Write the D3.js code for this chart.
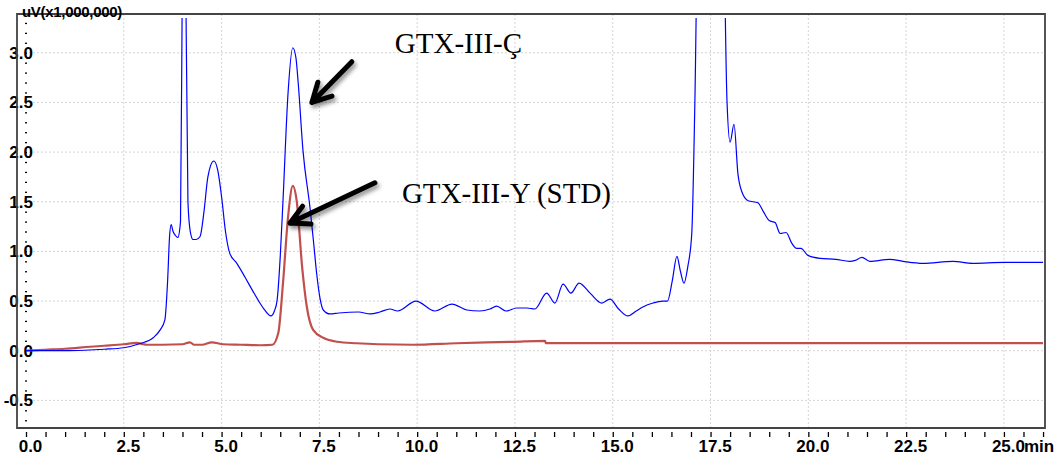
<!DOCTYPE html>
<html lang="en">
<head>
<meta charset="UTF-8">
<title>Chromatogram</title>
<script src="https://d3js.org/d3.v7.min.js"></script>
<style>
  body { margin: 0; background: #fff; }
  .axis text { font-family: "Liberation Sans", Arial, sans-serif; font-weight: bold; font-size: 17px; fill: #000; }
  .axis line { stroke: #000; }
  .axis path { display: none; }
</style>
</head>
<body>
<svg id="chart" width="1057" height="467"></svg>
<script>
// blue trace (sample)
var blueTime = [0, 0.5, 1, 1.5, 2, 2.5, 2.9, 3.25, 3.43, 3.55, 3.62, 3.67, 3.71, 3.76, 3.82, 3.88, 3.95,
    4.0, 4.04, 4.08, 4.14, 4.2, 4.27, 4.35, 4.45, 4.55, 4.65, 4.8, 4.9, 5.0, 5.1, 5.21, 5.39, 5.6, 5.8,
    5.98, 6.1, 6.26, 6.35, 6.42, 6.5, 6.57, 6.7, 6.82, 6.9, 6.96, 7.08, 7.26, 7.35, 7.43, 7.52, 7.6, 7.77,
    8.0, 8.5, 8.8, 9.05, 9.3, 9.5, 9.97, 10.45, 10.89, 11.27, 11.6, 11.86, 12.03, 12.27, 12.55, 12.8, 13.01,
    13.31, 13.52, 13.73, 13.93, 14.14, 14.42, 14.72, 14.93, 15.15, 15.39, 15.6, 15.77, 16.03, 16.28, 16.4,
    16.52, 16.64, 16.73, 16.82, 16.92, 17.02, 17.1, 17.2, 17.5, 17.8, 17.92, 18.0, 18.1, 18.2, 18.3, 18.46,
    18.71, 18.85, 19.0, 19.15, 19.28, 19.43, 19.58, 19.7, 19.81, 19.99, 20.3, 20.7, 21.06, 21.2, 21.37,
    21.57, 22.08, 22.42, 22.93, 23.7, 24.2, 25.0, 26.0];
var blueValue = [0, 0, 0, 0.005, 0.015, 0.03, 0.07, 0.13, 0.21, 0.31, 0.7, 1.15, 1.27, 1.2, 1.16, 1.14, 1.3,
    4.0, 6.0, 4.0, 1.5, 1.2, 1.12, 1.12, 1.15, 1.4, 1.75, 1.91, 1.82, 1.55, 1.2, 0.98, 0.88, 0.74, 0.6,
    0.48, 0.41, 0.35, 0.40, 0.51, 0.95, 1.51, 2.6, 3.05, 2.95, 2.69, 2.02, 1.44, 1.1, 0.78, 0.52, 0.41, 0.37,
    0.38, 0.39, 0.37, 0.39, 0.42, 0.40, 0.50, 0.40, 0.47, 0.41, 0.40, 0.42, 0.45, 0.40, 0.43, 0.43, 0.42,
    0.58, 0.48, 0.67, 0.58, 0.68, 0.58, 0.48, 0.52, 0.42, 0.35, 0.40, 0.44, 0.48, 0.50, 0.50,
    0.7, 0.95, 0.8, 0.68, 0.85, 1.18, 2.52, 5, 6, 5, 2.52, 2.1, 2.28, 1.78, 1.6, 1.51,
    1.49, 1.4, 1.31, 1.29, 1.18, 1.19, 1.08, 1.03, 1.03, 0.96, 0.93, 0.92, 0.90, 0.91, 0.94,
    0.90, 0.92, 0.90, 0.88, 0.90, 0.88, 0.89, 0.89];

// red trace (standard)
var redTime = [0, 0.5, 1, 1.64, 2, 2.5, 2.83, 3.0, 3.08, 3.5, 4.0, 4.19, 4.3, 4.5, 4.75, 5.04, 5.5, 6.0,
    6.3, 6.45, 6.57, 6.7, 6.82, 6.92, 7.06, 7.18, 7.34, 7.6, 7.95, 8.45, 9.0, 9.9, 11.0, 12.45, 13.27,
    13.29, 20.0, 26.0];
var redValue = [0, 0.01, 0.02, 0.04, 0.05, 0.065, 0.08, 0.065, 0.06, 0.06, 0.065, 0.085, 0.06, 0.06, 0.085,
    0.065, 0.06, 0.055, 0.06, 0.18, 0.68, 1.35, 1.66, 1.51, 0.84, 0.44, 0.21, 0.13, 0.09, 0.075, 0.065,
    0.06, 0.075, 0.09, 0.10, 0.077, 0.077, 0.077];

var xMajor = [0, 2.5, 5, 7.5, 10, 12.5, 15, 17.5, 20, 22.5, 25];
var yMajor = [-0.5, 0, 0.5, 1, 1.5, 2, 2.5, 3];
var unitLabel = 'uV(x1,000,000)';

// annotations: [label, text t, text v, tail t, tail v, tip t, tip v]
var notes = [
    ['GTX-III-Ç', 9.43, 3.0, 8.33, 2.91, 7.31, 2.50],
    ['GTX-III-Y (STD)', 9.61, 1.49, 8.92, 1.69, 6.75, 1.285]
];

var svg = d3.select('#chart');
var padL = 17, padR = 1045, padT = 14, padB = 428;

var x = d3.scaleLinear().domain([-0.23, 26.05]).range([padL, padR]);
var y = d3.scaleLinear().domain([-0.778, 3.39]).range([padB, padT]);

var defs = svg.append('defs');
defs.append('clipPath').attr('id', 'plotclip')
    .append('rect').attr('x', padL).attr('y', 18).attr('width', padR - padL).attr('height', padB - 18);
var f = defs.append('filter').attr('id', 'shadow').attr('x', '-20%').attr('y', '-20%').attr('width', '150%').attr('height', '150%');
f.append('feDropShadow').attr('dx', 2).attr('dy', 3).attr('stdDeviation', 2)
    .attr('flood-color', '#000').attr('flood-opacity', 0.45);

// grid
svg.append('g').selectAll('line').data(xMajor.filter(function (d) { return d > 0; }))
    .enter().append('line')
    .attr('x1', function (d) { return x(d); }).attr('x2', function (d) { return x(d); })
    .attr('y1', padT).attr('y2', padB)
    .attr('stroke', '#d4d4d4').attr('stroke-dasharray', '2,2');
svg.append('g').selectAll('line').data(yMajor)
    .enter().append('line')
    .attr('x1', x(0) + 3).attr('x2', padR)
    .attr('y1', function (d) { return y(d); }).attr('y2', function (d) { return y(d); })
    .attr('stroke', '#d4d4d4').attr('stroke-dasharray', '2,2');

// axes
var xAxis = d3.axisBottom(x)
    .tickValues(d3.range(0, 26.01, 0.5))
    .tickSize(5).tickPadding(3)
    .tickFormat(function (d) { return xMajor.indexOf(d) >= 0 ? d.toFixed(1) : ''; });
var gx = svg.append('g').attr('class', 'axis').attr('transform', 'translate(0,' + (padB + 4) + ')').call(xAxis);
gx.selectAll('.tick line').attr('stroke-width', 1.3);
gx.selectAll('.tick text').attr('dx', 4);
gx.append('text').attr('x', x(25) + 20).attr('y', 20).attr('text-anchor', 'start').text('min');

var yAxis = d3.axisLeft(y)
    .tickValues(d3.range(-7, 34).map(function (d) { return d / 10; }))
    .tickSize(2).tickPadding(-8)
    .tickFormat(function (d) { return yMajor.indexOf(d) >= 0 ? d.toFixed(1) : ''; });
var gy = svg.append('g').attr('class', 'axis').attr('transform', 'translate(' + (x(0) + 1) + ',0)').call(yAxis);
gy.selectAll('.tick line').attr('stroke-width', 1.3);

// traces
var line = d3.line().curve(d3.curveMonotoneX)
    .x(function (d) { return x(d[0]); }).y(function (d) { return y(d[1]); });
var plot = svg.append('g').attr('clip-path', 'url(#plotclip)');
plot.append('path').datum(d3.zip(redTime, redValue)).attr('d', line)
    .attr('fill', 'none').attr('stroke', '#c0504d').attr('stroke-width', 2.2);
plot.append('path').datum(d3.zip(blueTime, blueValue)).attr('d', line)
    .attr('fill', 'none').attr('stroke', '#0000ff').attr('stroke-width', 1.2);

// frame
svg.append('path')
    .attr('d', 'M' + padL + ',' + padT + 'H' + padR + 'V' + padB + 'H' + padL + 'Z')
    .attr('fill', 'none').attr('stroke', '#444').attr('stroke-width', 1.8);

svg.append('text').attr('x', 22).attr('y', 17)
    .attr('font-family', '"Liberation Sans", Arial, sans-serif').attr('font-weight', 'bold')
    .attr('font-size', 15).attr('letter-spacing', -0.3).text(unitLabel);

// annotation arrows and labels
notes.forEach(function (n) {
    var tx = x(n[5]), ty = y(n[6]), sx = x(n[3]), sy = y(n[4]);
    var ang = Math.atan2(sy - ty, sx - tx), len = 21, spread = 28 * Math.PI / 180;
    var w1 = [tx + len * Math.cos(ang - spread), ty + len * Math.sin(ang - spread)];
    var w2 = [tx + len * Math.cos(ang + spread), ty + len * Math.sin(ang + spread)];
    svg.append('path')
        .attr('d', 'M' + sx + ',' + sy + 'L' + tx + ',' + ty +
            'M' + w1[0] + ',' + w1[1] + 'L' + tx + ',' + ty + 'L' + w2[0] + ',' + w2[1])
        .attr('fill', 'none').attr('stroke', '#000').attr('stroke-width', 5)
        .attr('stroke-linecap', 'round').attr('stroke-linejoin', 'round')
        .attr('filter', 'url(#shadow)');
    svg.append('text').attr('x', x(n[1])).attr('y', y(n[2]))
        .attr('font-family', '"Liberation Serif", "Times New Roman", serif')
        .attr('font-size', 29).attr('fill', '#000').text(n[0]);
});
</script>
</body>
</html>
